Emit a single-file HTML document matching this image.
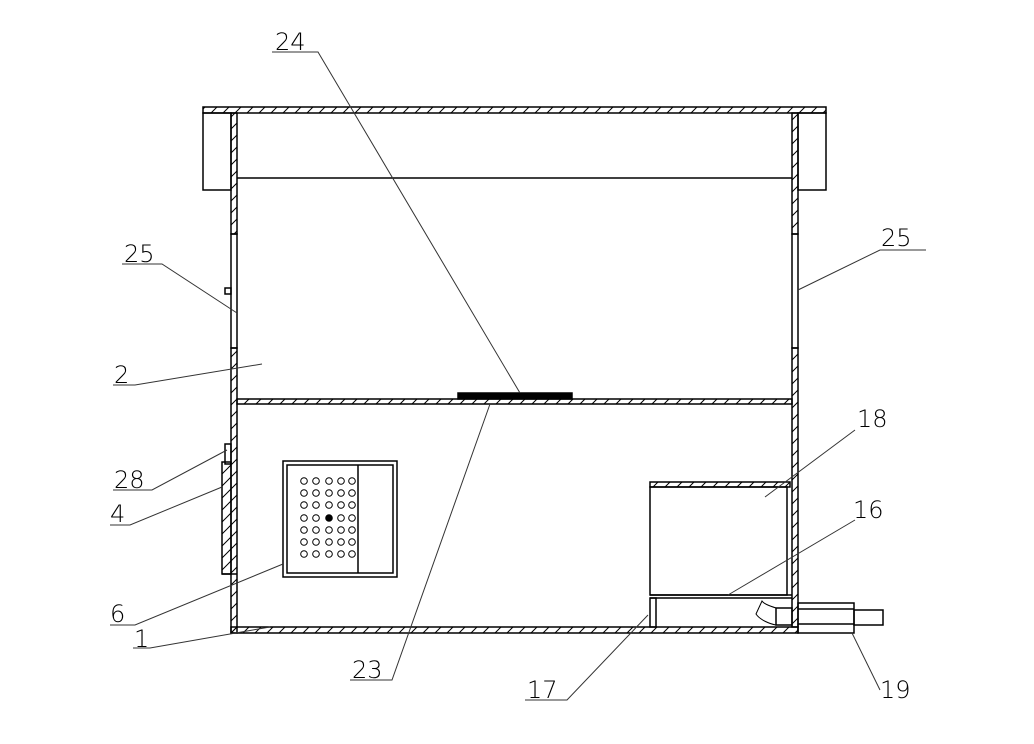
<!DOCTYPE html>
<html><head><meta charset="utf-8"><style>
html,body{margin:0;padding:0;background:#fff;}
svg{display:block}
text{font-family:"DejaVu Sans","Liberation Sans",sans-serif;font-size:24px;fill:#000;font-weight:200}
</style></head><body>
<svg width="1034" height="744" viewBox="0 0 1034 744" xmlns="http://www.w3.org/2000/svg">
<defs>
<pattern id="h" width="12" height="12" patternUnits="userSpaceOnUse">
<path d="M-3,15 L15,-3 M-3,3 L3,-3 M9,15 L15,9" stroke="#000" stroke-width="1"/>
</pattern>
</defs>
<g fill="none" stroke="#000" stroke-width="1.5">
<rect x="203" y="107" width="623" height="6" fill="url(#h)"/>
<rect x="203" y="113" width="28" height="77"/>
<rect x="798" y="113" width="28" height="77"/>
<rect x="231" y="113" width="6" height="121" fill="url(#h)"/>
<rect x="231" y="234" width="6" height="114"/>
<rect x="231" y="348" width="6" height="285" fill="url(#h)"/>
<rect x="225" y="288" width="6" height="6"/>
<rect x="792" y="113" width="6" height="121" fill="url(#h)"/>
<rect x="792" y="234" width="6" height="114"/>
<rect x="792" y="348" width="6" height="279" fill="url(#h)"/>
<line x1="237" y1="178" x2="792" y2="178"/>
<rect x="237" y="399" width="555" height="5" fill="url(#h)"/>
<rect x="458" y="393" width="114" height="6" fill="#000"/>
<rect x="231" y="627" width="567" height="6" fill="url(#h)"/>
<rect x="225" y="444" width="6" height="20"/>
<rect x="222" y="462" width="9" height="112" fill="url(#h)"/>
<line x1="222" y1="574" x2="237" y2="574"/>
<rect x="283" y="461" width="114" height="116"/>
<rect x="287" y="465" width="106" height="108"/>
<line x1="358" y1="465" x2="358" y2="573"/>
<rect x="650" y="482" width="140" height="5" fill="url(#h)"/>
<rect x="650" y="487" width="137" height="108"/>
<line x1="650" y1="595" x2="792" y2="595"/>
<line x1="650" y1="598" x2="792" y2="598"/>
<rect x="650" y="598" width="6" height="29"/>
<rect x="776" y="608" width="16" height="17"/>
<path d="M776,608 C770,606 764,604 762,601 L756,614 C760,620 770,624 776,625" stroke-width="1"/>
<rect x="798" y="603" width="56" height="30"/>
<line x1="798" y1="609" x2="854" y2="609"/>
<line x1="798" y1="624" x2="854" y2="624"/>
<rect x="854" y="610" width="29" height="15"/>
</g>
<g stroke="#333" stroke-width="1" fill="none">
<path d="M272,52 H318 L520,393"/>
<path d="M122,264 H162 L237,313"/>
<path d="M926,250 H880 L798,290"/>
<path d="M113,385 H135 L262,364"/>
<path d="M113,490 H152 L227,450"/>
<path d="M110,525 H130 L222,487"/>
<path d="M110,625 H135 L283,564"/>
<path d="M133,648 H150 L270,627"/>
<path d="M350,680 H392 L490,404"/>
<path d="M525,700 H567 L648,615"/>
<path d="M880,690 L852,633"/>
<path d="M855,430 L765,497"/>
<path d="M855,520 L728,595"/>
</g>
<g>
<text x="275" y="50">24</text>
<text x="124" y="262">25</text>
<text x="881" y="246">25</text>
<text x="114" y="383">2</text>
<text x="114" y="488">28</text>
<text x="110" y="522">4</text>
<text x="110" y="622">6</text>
<text x="134" y="647">1</text>
<text x="352" y="678">23</text>
<text x="527" y="698">17</text>
<text x="880" y="698">19</text>
<text x="857" y="427">18</text>
<text x="853" y="518">16</text>
</g>
<g fill="none" stroke="#000" stroke-width="1">
<circle cx="304" cy="481" r="3.3"/><circle cx="316" cy="481" r="3.3"/><circle cx="329" cy="481" r="3.3"/><circle cx="341" cy="481" r="3.3"/><circle cx="352" cy="481" r="3.3"/>
<circle cx="304" cy="493" r="3.3"/><circle cx="316" cy="493" r="3.3"/><circle cx="329" cy="493" r="3.3"/><circle cx="341" cy="493" r="3.3"/><circle cx="352" cy="493" r="3.3"/>
<circle cx="304" cy="505" r="3.3"/><circle cx="316" cy="505" r="3.3"/><circle cx="329" cy="505" r="3.3"/><circle cx="341" cy="505" r="3.3"/><circle cx="352" cy="505" r="3.3"/>
<circle cx="304" cy="518" r="3.3"/><circle cx="316" cy="518" r="3.3"/><circle cx="329" cy="518" r="3.3" fill="#000"/><circle cx="341" cy="518" r="3.3"/><circle cx="352" cy="518" r="3.3"/>
<circle cx="304" cy="530" r="3.3"/><circle cx="316" cy="530" r="3.3"/><circle cx="329" cy="530" r="3.3"/><circle cx="341" cy="530" r="3.3"/><circle cx="352" cy="530" r="3.3"/>
<circle cx="304" cy="542" r="3.3"/><circle cx="316" cy="542" r="3.3"/><circle cx="329" cy="542" r="3.3"/><circle cx="341" cy="542" r="3.3"/><circle cx="352" cy="542" r="3.3"/>
<circle cx="304" cy="554" r="3.3"/><circle cx="316" cy="554" r="3.3"/><circle cx="329" cy="554" r="3.3"/><circle cx="341" cy="554" r="3.3"/><circle cx="352" cy="554" r="3.3"/>
</g>
</svg>
</body></html>
